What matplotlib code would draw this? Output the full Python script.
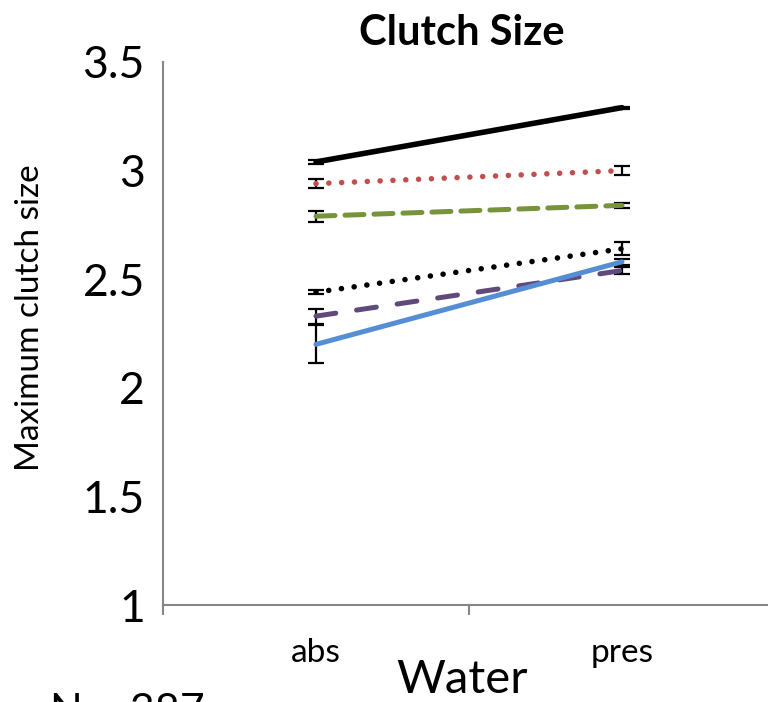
import numpy as np
import matplotlib.pyplot as plt

plt.rcParams['font.family'] = ['Lato', 'DejaVu Sans']

categories = ['abs', 'pres']

# mean maximum clutch size per group, with error bar half-widths
black_solid = [3.04, 3.29]
black_solid_err = [0.01, 0.005]
red_dotted = [2.94, 3.00]
red_dotted_err = [0.02, 0.02]
green_dashed = [2.79, 2.84]
green_dashed_err = [0.025, 0.01]
black_dotted = [2.44, 2.64]
black_dotted_err = [0.01, 0.03]
purple_dashed = [2.33, 2.54]
purple_dashed_err = [0.035, 0.015]
blue_solid = [2.20, 2.58]
blue_solid_err = [0.088, 0.015]

dots = (0, (0.01, 2.3))
series = [
    (black_solid, black_solid_err, '#000000', '-', 4.0),
    (red_dotted, red_dotted_err, '#C0504D', dots, 4.0),
    (green_dashed, green_dashed_err, '#77933C', (0, (3.8, 2)), 3.6),
    (black_dotted, black_dotted_err, '#000000', dots, 4.0),
    (purple_dashed, purple_dashed_err, '#604A7B', (0, (4, 4.2)), 3.6),
    (blue_solid, blue_solid_err, '#558ED5', '-', 3.6),
]

fig = plt.figure(figsize=(7.68, 7.02), dpi=100)
ax = fig.add_axes([163 / 768, 97 / 702, 612 / 768, 543 / 702])

x = np.arange(len(categories))
for vals, errs, color, ls, lw in series:
    ax.errorbar(x, vals, yerr=errs, fmt='none', ecolor='black', elinewidth=1.6,
                capsize=6, capthick=1.6, zorder=2)
    ax.plot(x, vals, color=color, linestyle=ls, linewidth=lw,
            solid_capstyle='round', dash_capstyle='round', zorder=3)

ax.set_xlim(-0.5, 1.5)
ax.set_ylim(1, 3.5)
ax.set_yticks([1, 1.5, 2, 2.5, 3, 3.5])
ax.set_yticklabels(['1', '1.5', '2', '2.5', '3', '3.5'], fontsize=32)
ax.set_xticks(x)
ax.set_xticklabels(categories, fontsize=24)
ax.set_xticks([-0.5, 0.5, 1.5], minor=True)
ax.tick_params(axis='x', which='major', length=0, pad=24)
ax.tick_params(axis='x', which='minor', length=7, color='#868686', width=1.5)
ax.tick_params(axis='y', length=0, pad=13)

for side in ['top', 'right']:
    ax.spines[side].set_visible(False)
for side in ['left', 'bottom']:
    ax.spines[side].set_color('#868686')
    ax.spines[side].set_linewidth(1.5)

fig.text(462 / 768, 1 - 33 / 702, 'Clutch Size', fontsize=30, fontweight='bold',
         ha='center', va='center')
fig.text(30 / 768, 1 - 318 / 702, 'Maximum clutch size', fontsize=24,
         rotation=90, ha='center', va='center')
fig.text(462 / 768, 1 - 680 / 702, 'Water', fontsize=34, ha='center', va='center')
fig.text(50 / 768, 1 - 712 / 702, 'N = 387', fontsize=31, ha='left', va='center')

fig.savefig('out.png', dpi=100)
